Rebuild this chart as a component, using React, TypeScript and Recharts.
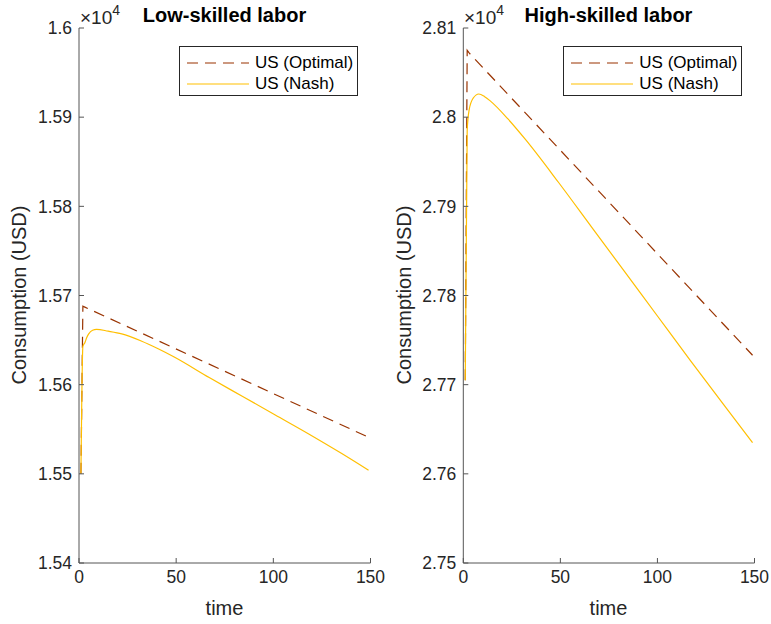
import React from "react";
import { LineChart, Line, XAxis, YAxis, Legend } from "recharts";

// time axis
const timeTicks = [0, 50, 100, 150];

// low-skilled labor (USD)
const lowTicks = [15400, 15500, 15600, 15700, 15800, 15900, 16000];
const lowOptimalTime = [1, 2, 3, 149];
const lowOptimal = [15500, 15688, 15687, 15541];
const lowNashTime = [1, 2, 3, 4, 5, 7, 9, 15, 22, 32, 41, 49, 67, 84, 101, 118, 135, 149];
const lowNash = [15500, 15643, 15647, 15653, 15657, 15661, 15662, 15660, 15657, 15649, 15640, 15631, 15608, 15587, 15566, 15545, 15523, 15504];

// high-skilled labor (USD)
const highTicks = [27500, 27600, 27700, 27800, 27900, 28000, 28100];
const highOptimalTime = [1, 2, 3, 149];
const highOptimal = [27705, 28075, 28072, 27733];
const highNashTime = [1, 2, 3, 5, 8, 11, 14, 23, 32, 49, 66, 83, 100, 117, 135, 149];
const highNash = [27705, 27985, 28008, 28021, 28026, 28023, 28018, 27998, 27975, 27927, 27877, 27827, 27777, 27727, 27675, 27635];

const seriesNames = ["US (Optimal)", "US (Nash)"];
const OPT_COLOR = "#993300";
const NASH_COLOR = "#FFBF00";
const AXIS_COLOR = "#555555";
const TEXT_COLOR = "#262626";
const FONT = "'Liberation Sans', Arial, Helvetica, sans-serif";

const toPoints = (ts: number[], vs: number[]) => ts.map((t, i) => ({ t, v: vs[i] }));
const fmt = (v: number) => String(+(v / 1e4).toFixed(2));

function LegendBox() {
    return (
        <div
            style={{
                width: 177,
                height: 48,
                border: "1px solid #262626",
                background: "#fff",
                fontFamily: FONT,
                fontSize: 17,
                color: "#000",
                position: "relative",
            }}
        >
            {seriesNames.map((name, i) => (
                <div key={name} style={{ position: "absolute", left: 6, top: 5 + i * 21, height: 21, display: "flex", alignItems: "center" }}>
                    <svg width={64} height={10} style={{ marginRight: 5 }}>
                        <line
                            x1={1}
                            x2={63}
                            y1={5}
                            y2={5}
                            stroke={i === 0 ? OPT_COLOR : NASH_COLOR}
                            strokeWidth={1.2}
                            strokeDasharray={i === 0 ? "11 7" : undefined}
                        />
                    </svg>
                    <span>{name}</span>
                </div>
            ))}
        </div>
    );
}

interface PanelProps {
    left: number;
    width: number;
    plotLeft: number;
    plotRight: number;
    ticks: number[];
    optimal: { t: number; v: number }[];
    nash: { t: number; v: number }[];
}

function Panel({ left, width, plotLeft, plotRight, ticks, optimal, nash }: PanelProps) {
    const yAxisWidth = 60;
    const xAxisHeight = 30;
    return (
        <div style={{ position: "absolute", left, top: 0 }}>
            <LineChart
                width={width}
                height={624}
                margin={{ top: 28, left: plotLeft - yAxisWidth, right: width - plotRight, bottom: 61 - xAxisHeight }}
            >
                <XAxis
                    dataKey="t"
                    type="number"
                    domain={[0, 150]}
                    ticks={timeTicks}
                    height={xAxisHeight}
                    tickSize={-5}
                    tickMargin={13}
                    stroke={AXIS_COLOR}
                    tick={{ fill: TEXT_COLOR, fontSize: 17.5, fontFamily: FONT }}
                    allowDuplicatedCategory={false}
                />
                <YAxis
                    type="number"
                    domain={[ticks[0], ticks[ticks.length - 1]]}
                    ticks={ticks}
                    width={yAxisWidth}
                    tickSize={-5}
                    tickMargin={12}
                    tickFormatter={fmt}
                    stroke={AXIS_COLOR}
                    tick={{ fill: TEXT_COLOR, fontSize: 17.5, fontFamily: FONT }}
                />
                <Legend
                    layout="horizontal"
                    verticalAlign="middle"
                    align="center"
                    content={() => <LegendBox />}
                    wrapperStyle={{ left: plotLeft + 100, top: 46, width: 179, height: 50 }}
                />
                <Line
                    data={optimal}
                    dataKey="v"
                    name={seriesNames[0]}
                    type="linear"
                    stroke={OPT_COLOR}
                    strokeWidth={1.2}
                    strokeDasharray="11 7"
                    dot={false}
                    isAnimationActive={false}
                />
                <Line
                    data={nash}
                    dataKey="v"
                    name={seriesNames[1]}
                    type="monotone"
                    stroke={NASH_COLOR}
                    strokeWidth={1.2}
                    dot={false}
                    isAnimationActive={false}
                />
            </LineChart>
        </div>
    );
}

export default function App() {
    return (
        <div style={{ position: "absolute", left: 0, top: 0, width: 771, height: 624, background: "#fff" }}>
            <Panel
                left={0}
                width={385}
                plotLeft={79}
                plotRight={370.5}
                ticks={lowTicks}
                optimal={toPoints(lowOptimalTime, lowOptimal)}
                nash={toPoints(lowNashTime, lowNash)}
            />
            <Panel
                left={385}
                width={386}
                plotLeft={78.3}
                plotRight={369.5}
                ticks={highTicks}
                optimal={toPoints(highOptimalTime, highOptimal)}
                nash={toPoints(highNashTime, highNash)}
            />
            {/* titles, exponent and axis labels */}
            <svg width={771} height={624} style={{ position: "absolute", left: 0, top: 0, pointerEvents: "none" }} fontFamily={FONT}>
                <text x={224.5} y={22} textAnchor="middle" fontSize={20} fontWeight="bold" fill="#000">Low-skilled labor</text>
                <text x={608.5} y={22} textAnchor="middle" fontSize={20} fontWeight="bold" fill="#000">High-skilled labor</text>
                <text x={80} y={24} fontSize={19} fill={TEXT_COLOR}>×10<tspan dy={-9} fontSize={14}>4</tspan></text>
                <text x={464} y={24} fontSize={19} fill={TEXT_COLOR}>×10<tspan dy={-9} fontSize={14}>4</tspan></text>
                <text x={26} y={295} transform="rotate(-90 26 295)" textAnchor="middle" fontSize={20} fill={TEXT_COLOR}>Consumption (USD)</text>
                <text x={411} y={295} transform="rotate(-90 411 295)" textAnchor="middle" fontSize={20} fill={TEXT_COLOR}>Consumption (USD)</text>
                <text x={224.5} y={615} textAnchor="middle" fontSize={20} fill={TEXT_COLOR}>time</text>
                <text x={608.5} y={615} textAnchor="middle" fontSize={20} fill={TEXT_COLOR}>time</text>
            </svg>
        </div>
    );
}
